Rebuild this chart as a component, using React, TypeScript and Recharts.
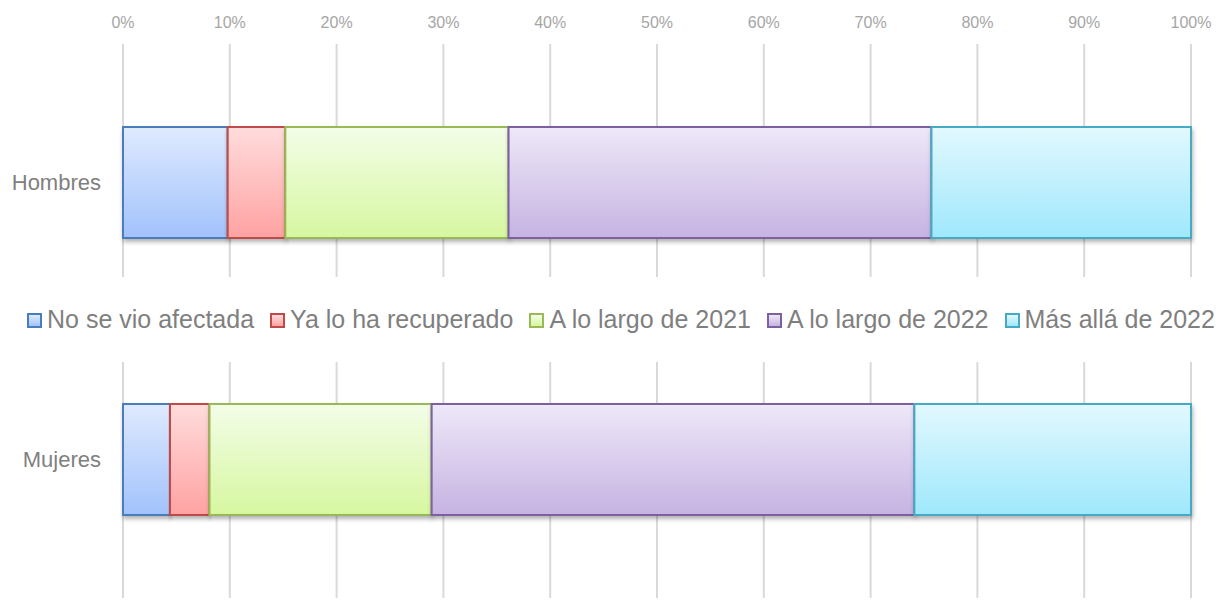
import React from 'react';
import { BarChart, Bar, XAxis, YAxis, CartesianGrid } from 'recharts';

const categories = ['Hombres', 'Mujeres'];
const seriesNames = [
  'No se vio afectada',
  'Ya lo ha recuperado',
  'A lo largo de 2021',
  'A lo largo de 2022',
  'Más allá de 2022',
];
const hombresValues = [9.8, 5.4, 20.9, 39.6, 24.3];
const mujeresValues = [4.4, 3.7, 20.8, 45.2, 25.9];
const xTicks = [0, 10, 20, 30, 40, 50, 60, 70, 80, 90, 100];

const seriesColors = [
  { top: '#dfeafe', bottom: '#a2c2fc', stroke: '#4a7ebb' },
  { top: '#ffdcdc', bottom: '#ffa2a2', stroke: '#be4b48' },
  { top: '#f3fde8', bottom: '#d6f7a0', stroke: '#98b954' },
  { top: '#eee8f8', bottom: '#c6b3e2', stroke: '#7d60a0' },
  { top: '#e2f8fe', bottom: '#9fe8fc', stroke: '#46aac5' },
];

const toRow = (name: string, values: number[]) => {
  const row: Record<string, string | number> = { name };
  values.forEach((v, i) => (row['s' + i] = v));
  return row;
};

const hombresData = [toRow(categories[0], hombresValues)];
const mujeresData = [toRow(categories[1], mujeresValues)];

const FONT = '"Liberation Sans", Arial, sans-serif';

const CategoryTick = (props: any) => {
  const { y, payload } = props;
  return (
    <text x={101} y={y} dy="0.32em" textAnchor="end" fill="#7f7f7f" fontSize={22} fontFamily={FONT}>
      {payload.value}
    </text>
  );
};

const Defs = ({ prefix }: { prefix: string }) => (
  <defs>
    {seriesColors.map((c, i) => (
      <linearGradient key={i} id={`${prefix}g${i}`} x1="0" y1="0" x2="0" y2="1">
        <stop offset="0%" stopColor={c.top} />
        <stop offset="100%" stopColor={c.bottom} />
      </linearGradient>
    ))}
    <filter id={`${prefix}shadow`} x="-5%" y="-10%" width="110%" height="130%">
      <feDropShadow dx="1" dy="3" stdDeviation="2" floodColor="#000" floodOpacity="0.3" />
    </filter>
  </defs>
);

const renderBars = (prefix: string) =>
  seriesNames.map((n, i) => (
    <Bar
      key={n}
      dataKey={'s' + i}
      name={n}
      stackId="a"
      fill={`url(#${prefix}g${i})`}
      stroke={seriesColors[i].stroke}
      strokeWidth={2}
      filter={`url(#${prefix}shadow)`}
      isAnimationActive={false}
    />
  ));

const Legend = () => (
  <div
    style={{
      position: 'absolute',
      left: 27,
      top: 307,
      display: 'flex',
      alignItems: 'baseline',
      fontFamily: FONT,
      fontSize: 25,
      lineHeight: '25px',
      color: '#7f7f7f',
      whiteSpace: 'nowrap',
    }}
  >
    {seriesNames.map((n, i) => (
      <div key={n} style={{ display: 'flex', alignItems: 'baseline', marginRight: i < 4 ? 16 : 0 }}>
        <span
          style={{
            display: 'inline-block',
            width: 11,
            height: 11,
            border: `2px solid ${seriesColors[i].stroke}`,
            background: `linear-gradient(${seriesColors[i].top}, ${seriesColors[i].bottom})`,
            marginRight: 5,
          }}
        />
        <span>{n}</span>
      </div>
    ))}
  </div>
);

export default function App() {
  return (
    <div style={{ position: 'absolute', left: 0, top: 0, width: 1225, height: 600, background: '#fff' }}>
      <div style={{ position: 'absolute', left: 0, top: 0 }}>
        <BarChart
          width={1225}
          height={280}
          data={hombresData}
          layout="vertical"
          barCategoryGap={0}
          margin={{ top: 0, right: 34, bottom: 3, left: 0 }}
        >
          <Defs prefix="h" />
          <CartesianGrid horizontal={false} stroke="#d9d9d9" strokeWidth={2} />
          <XAxis
            type="number"
            orientation="top"
            domain={[0, 100]}
            ticks={xTicks}
            interval={0}
            height={44}
            axisLine={false}
            tickLine={false}
            tickSize={6}
            tickMargin={10}
            tickFormatter={(v: number) => `${v}%`}
            tick={{ fill: '#a6a6a6', fontSize: 16, fontFamily: FONT }}
          />
          <YAxis
            type="category"
            dataKey="name"
            width={123}
            axisLine={false}
            tickLine={false}
            padding={{ top: 83, bottom: 39 }}
            tick={<CategoryTick />}
          />
          {renderBars('h')}
        </BarChart>
      </div>
      <Legend />
      <div style={{ position: 'absolute', left: 0, top: 362 }}>
        <BarChart
          width={1225}
          height={238}
          data={mujeresData}
          layout="vertical"
          barCategoryGap={0}
          margin={{ top: 0, right: 34, bottom: 2, left: 0 }}
        >
          <Defs prefix="m" />
          <CartesianGrid horizontal={false} stroke="#d9d9d9" strokeWidth={2} />
          <XAxis type="number" domain={[0, 100]} ticks={xTicks} interval={0} hide />
          <YAxis
            type="category"
            dataKey="name"
            width={123}
            axisLine={false}
            tickLine={false}
            padding={{ top: 42, bottom: 83 }}
            tick={<CategoryTick />}
          />
          {renderBars('m')}
        </BarChart>
      </div>
    </div>
  );
}
